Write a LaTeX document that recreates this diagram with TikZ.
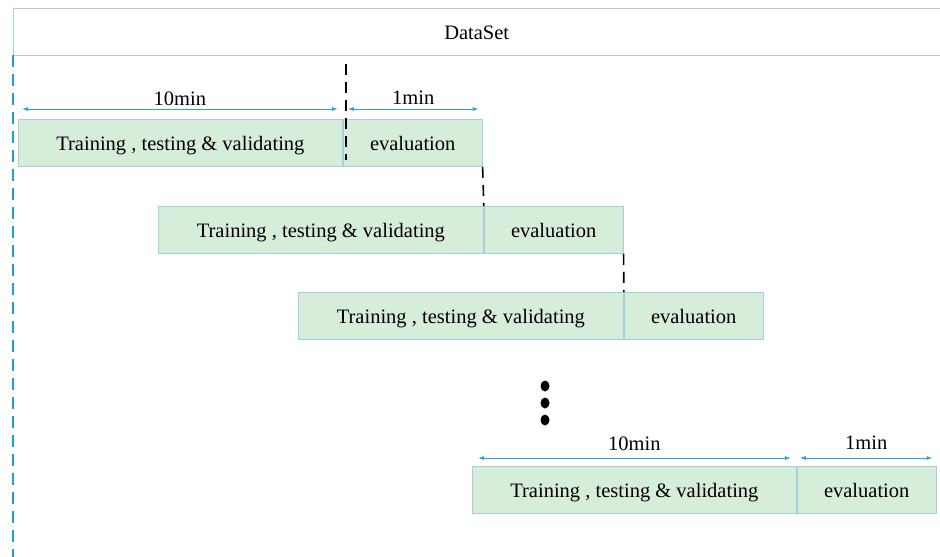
\documentclass[tikz,border=0pt]{standalone}
\usepackage{fontspec}
\setmainfont{Liberation Serif}
\usetikzlibrary{arrows.meta,positioning}
\definecolor{boxfill}{HTML}{D6EDDA}
\definecolor{boxline}{HTML}{A3CFE0}
\definecolor{arrowblue}{HTML}{2CA4D4}
\definecolor{sideblue}{HTML}{1B9DDA}
\tikzset{
  trainbox/.style={draw=boxline, fill=boxfill, line width=0.8pt, minimum height=47pt, text height=17pt, text depth=1pt, inner sep=0pt, anchor=north west},
  evalbox/.style={trainbox, minimum width=139pt},
  dimarrow/.style={draw=arrowblue, line width=0.8pt, {Latex[length=6pt,width=4pt]}-{Latex[length=6pt,width=4pt]}},
  cutline/.style={draw=black, line width=1.6pt, dash pattern=on 11pt off 7pt},
  sideline/.style={draw=sideblue, line width=2pt, dash pattern=on 12pt off 7pt},
  bandline/.style={draw=boxline, line width=1pt},
  dimlabel/.style={above, inner sep=3pt}
}
\newcommand{\myRound}[4]{
    \node[trainbox, minimum width=#4pt] (t#1) at (#2,#3) {Training , testing \& validating};
    \node[evalbox] (e#1) at (t#1.north east) {evaluation};
}

\begin{document}
\begin{tikzpicture}[x=1pt, y=-1pt, font=\fontsize{20.5pt}{24pt}\selectfont]
      \useasboundingbox (0,0) rectangle (940,557);

      \node[minimum width=927pt, minimum height=47pt, text height=17pt, text depth=1pt, inner sep=0pt, anchor=north west] (dataset) at (13,8) {DataSet};
      \draw[bandline] (dataset.north east) -- (dataset.north west) -- (dataset.south west) -- (dataset.south east);
      \coordinate (sideend) at (13,557);
      \draw[sideline] (dataset.south west) -- (sideend);

      \myRound{1}{18}{119}{324}
      \myRound{2}{158}{206}{325}
      \myRound{3}{298}{292}{325}
      \myRound{4}{472}{466}{324}

      \coordinate (cut) at (346,64);
      \coordinate (cutend) at (346,160);
      \draw[cutline] (cut) -- (cutend);
      \draw[cutline] (e1.south east) -- (e2.north west);
      \draw[cutline] (e2.south east) -- (e3.north west);

      \draw[dimarrow] ([xshift=4pt,yshift=10pt]t1.north west) -- ([xshift=-5pt,yshift=10pt]t1.north east) node[dimlabel, midway] {10min};
      \draw[dimarrow] ([xshift=5pt,yshift=10pt]e1.north west) -- ([xshift=-4pt,yshift=10pt]e1.north east) node[dimlabel, midway, yshift=1pt] {1min};
      \draw[dimarrow] ([xshift=6pt,yshift=8pt]t4.north west) -- ([xshift=-6pt,yshift=8pt]t4.north east) node[dimlabel, midway, yshift=4pt] {10min};
      \draw[dimarrow] ([xshift=3pt,yshift=8pt]e4.north west) -- ([xshift=-4pt,yshift=8pt]e4.north east) node[dimlabel, midway, yshift=5pt] {1min};

      \foreach \y in {386,403,420}
          \fill (545,\y) ellipse [x radius=4.5pt, y radius=5.5pt];
\end{tikzpicture}
\end{document}
